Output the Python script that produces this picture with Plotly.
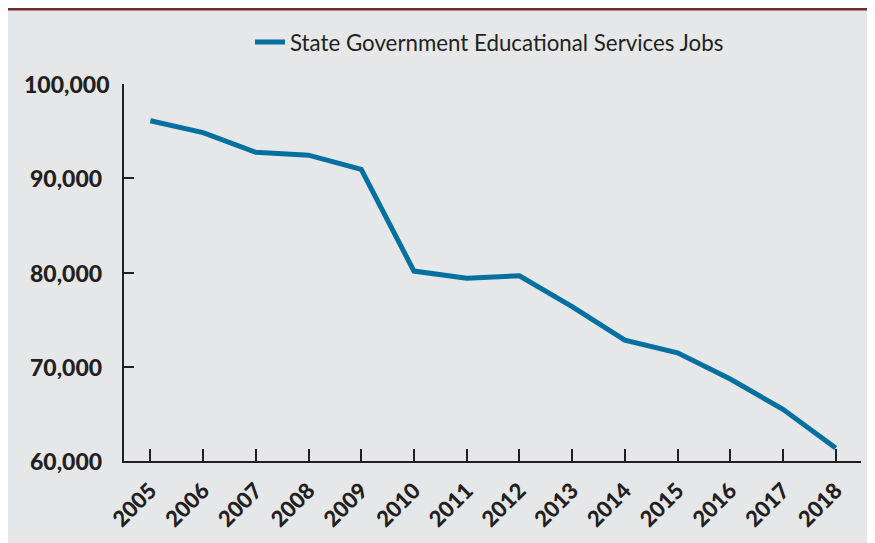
import plotly.graph_objects as go

years = [2005, 2006, 2007, 2008, 2009, 2010, 2011, 2012, 2013, 2014, 2015, 2016, 2017, 2018]
jobs = [96100, 94850, 92750, 92450, 90950, 80150, 79380, 79650, 76370, 72820, 71480, 68700, 65480, 61380]
series_name = "State Government Educational Services Jobs"
y_ticks = [60000, 70000, 80000, 90000, 100000]
y_tick_labels = ["60,000", "70,000", "80,000", "90,000", "100,000"]

W, H = 875, 543
OFF = 8  # page body margin
L, R, T, B = 116, 22, 76, 90
pw, ph = W - L - R, H - T - B

def px_x(p):
    return (p - OFF - L) / pw

def px_y(p):
    return (H - B - (p - OFF)) / ph

GRAY = "#e6e7e8"
INK = "#231f20"
BLUE = "#03709f"
FONT = "Lato, Roboto, sans-serif"

fig = go.Figure()
fig.add_trace(go.Scatter(
    x=years, y=jobs, mode="lines", name=series_name,
    line=dict(color=BLUE, width=5), showlegend=True,
))

# top rule
fig.add_shape(type="rect", xref="paper", yref="paper",
              x0=px_x(0), x1=px_x(W + 20), y0=px_y(10.5), y1=px_y(0),
              fillcolor="#6f2d2e", line=dict(width=0), layer="below")

annotations = []
for v, t in zip(y_ticks, y_tick_labels):
    annotations.append(dict(
        x=px_x(66), xref="paper", y=v, yref="y", text=t, showarrow=False,
        xanchor="center", yanchor="middle",
        font=dict(family=FONT, size=23, color=INK, weight=900),
    ))

fig.update_layout(
    width=W, height=H,
    margin=dict(l=L, r=R, t=T, b=B, autoexpand=False),
    paper_bgcolor=GRAY, plot_bgcolor=GRAY,
    showlegend=True,
    legend=dict(orientation="h", x=px_x(250), xanchor="left",
                y=px_y(42), yanchor="middle", bgcolor="rgba(0,0,0,0)",
                font=dict(family=FONT, size=22.3, color=INK)),
    annotations=annotations,
    xaxis=dict(range=[2004.5, 2018.48], tickmode="array", tickvals=years,
               ticktext=[str(y) for y in years], tickangle=-45,
               ticks="inside", ticklen=12, tickwidth=2, tickcolor=INK,
               showline=True, linecolor=INK, linewidth=2,
               showgrid=False, zeroline=False, automargin=False,
               ticklabelstandoff=6,
               tickfont=dict(family=FONT, size=22, color=INK, weight=900)),
    yaxis=dict(range=[60000, 100000], tickmode="array", tickvals=y_ticks,
               showticklabels=False, automargin=False,
               ticks="inside", ticklen=10, tickwidth=2, tickcolor=INK,
               showline=True, linecolor=INK, linewidth=2,
               showgrid=False, zeroline=False),
)

fig.write_html("out.html")
